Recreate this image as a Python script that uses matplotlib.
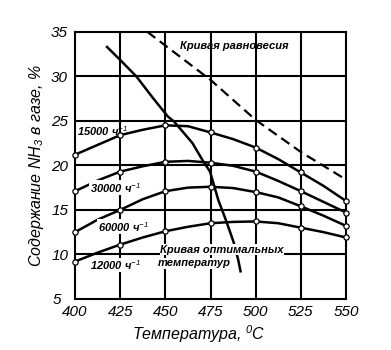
import numpy as np
import matplotlib
matplotlib.use('Agg')
import matplotlib.pyplot as plt
import matplotlib.transforms as mtransforms

plt.rcParams['font.family'] = ['Liberation Sans', 'DejaVu Sans']
plt.rcParams['font.style'] = 'italic'
plt.rcParams['mathtext.fontset'] = 'custom'
plt.rcParams['mathtext.rm'] = 'Liberation Sans:italic'
plt.rcParams['mathtext.it'] = 'Liberation Sans:italic'
plt.rcParams['mathtext.bf'] = 'Liberation Sans:italic:bold'

# Temperatures (every 12.5 deg); circles sit on every 25 deg
temps = [400, 412.5, 425, 437.5, 450, 462.5, 475, 487.5, 500, 512.5, 525, 537.5, 550]
nh3_15000 = [21.2, 22.3, 23.4, 24.0, 24.5, 24.4, 23.7, 22.95, 22.0, 20.7, 19.2, 17.7, 16.0]
nh3_30000 = [17.1, 18.3, 19.3, 19.9, 20.4, 20.5, 20.3, 19.95, 19.3, 18.25, 17.1, 15.9, 14.7]
nh3_60000 = [12.5, 13.9, 15.0, 16.2, 17.1, 17.5, 17.6, 17.45, 17.0, 16.4, 15.4, 14.35, 13.2]
nh3_120000 = [9.2, 10.2, 11.1, 11.9, 12.6, 13.1, 13.5, 13.65, 13.7, 13.5, 13.0, 12.5, 11.9]

# Equilibrium curve (dashed)
eq_t = [440, 475, 500, 525, 550]
eq_y = [35.0, 29.6, 25.1, 21.5, 18.4]

# Optimal temperature curve
opt_t = [417.7, 424.7, 433.9, 443.0, 451.3, 454.9, 465.0, 470.5, 474.7,
         479.3, 483.4, 487.9, 490.3, 491.6]
opt_y = [33.3, 31.9, 30.0, 27.6, 25.5, 24.9, 22.5, 20.6, 19.3,
         16.1, 13.9, 11.3, 9.4, 8.1]

xticks = [400, 425, 450, 475, 500, 525, 550]
yticks = [5, 10, 15, 20, 25, 30, 35]

fig = plt.figure(figsize=(3.91, 3.5), dpi=100)
ax = fig.add_axes([0.192, 0.146, 0.693, 0.763])

# grid
for t in xticks[1:-1]:
    ax.axvline(t, color='k', lw=1.5, zorder=1)
for v in yticks[1:-1]:
    ax.axhline(v, color='k', lw=1.5, zorder=1)

# space velocity curves
for series in [nh3_15000, nh3_30000, nh3_60000, nh3_120000]:
    ax.plot(temps, series, color='k', lw=1.8, marker='o', ms=3.8, markevery=2,
            mfc='white', mec='k', mew=0.9, zorder=4, clip_on=False)

ax.plot(eq_t, eq_y, color='k', lw=1.6, dashes=(4.5, 2.5), zorder=3)
ax.plot(opt_t, opt_y, color='k', lw=1.8, zorder=3)

lab = dict(fontsize=8, fontweight='bold', style='italic', zorder=5)
box = dict(facecolor='white', edgecolor='none', pad=0.3)
ax.text(401, 23.9, '15000 ч$^{-1}$', va='center', ha='left', **lab)
ax.text(408, 17.5, '30000 ч$^{-1}$', va='center', ha='left', bbox=box, **lab)
ax.text(412.5, 13.1, '60000 ч$^{-1}$', va='center', ha='left', bbox=box, **lab)
ax.text(408, 8.8, '12000 ч$^{-1}$', va='center', ha='left', bbox=box, **lab)
ax.text(447, 10.5, 'Кривая оптимальных', va='center', ha='left', bbox=box, **lab)
ax.text(446, 9.0, 'температур', va='center', ha='left', bbox=box, **lab)
ax.text(458, 33.4, 'Кривая равновесия', va='center', ha='left', **lab)

ax.set_xlim(400, 550)
ax.set_ylim(5, 35)
ax.set_xticks(xticks)
ax.set_yticks(yticks)
ax.tick_params(length=0, labelsize=11)
ax.tick_params(axis='x', pad=4.5)
ax.tick_params(axis='y', pad=5)
for s in ax.spines.values():
    s.set_linewidth(1.5)

# the "5" sits a little further left, clear of "400"
lbl5 = ax.get_yticklabels()[0]
lbl5.set_transform(lbl5.get_transform() +
                   mtransforms.ScaledTranslation(-5 / 72, 0, fig.dpi_scale_trans))

ax.set_xlabel('Температура, $^{0}$C', fontsize=11.5)
ax.xaxis.set_label_coords(0.455, -0.09)
ax.set_ylabel('Содержание NH$_3$ в газе, %', fontsize=11.5, labelpad=4)

fig.savefig('out.png', dpi=100)
